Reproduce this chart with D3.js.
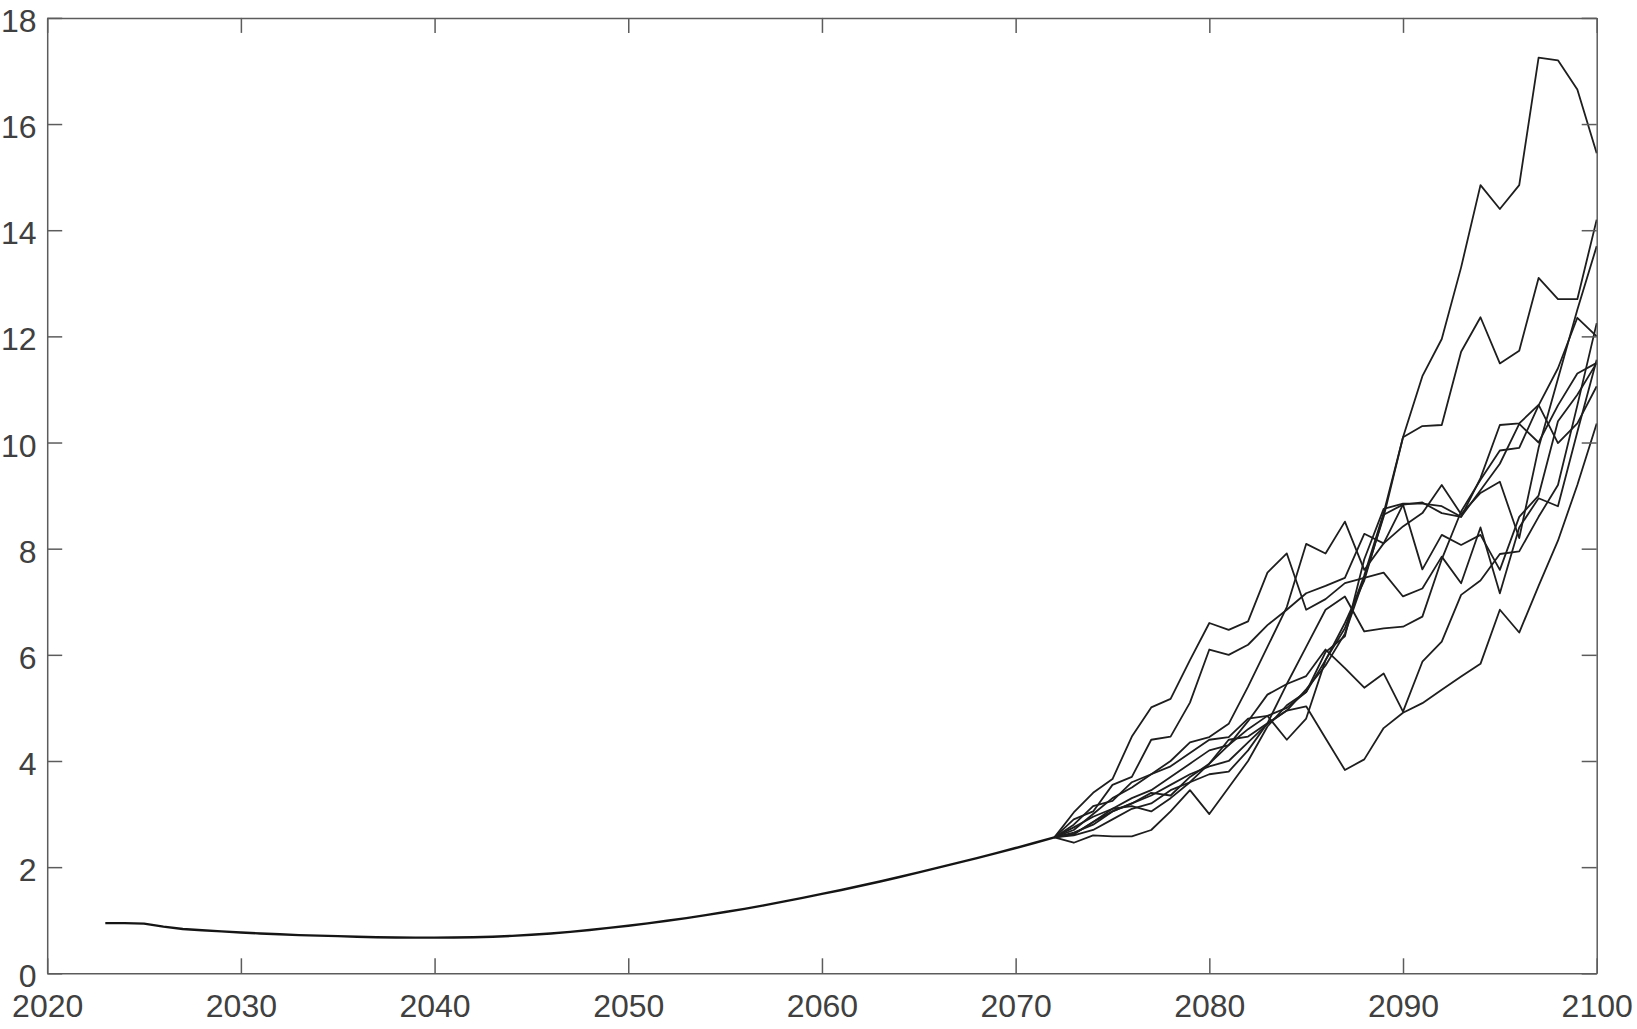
<!DOCTYPE html>
<html>
<head>
<meta charset="utf-8">
<script src="https://cdn.jsdelivr.net/npm/d3@7"></script>
<style>
  body { margin: 0; background: #fff; }
  text { font-family: "Liberation Sans", Arial, Helvetica, sans-serif; }
</style>
</head>
<body>
<div id="graph"></div>
<script>
// shared history 2023-2072
var histYears = d3.range(2023, 2073);
var histValues = [0.945, 0.945, 0.935, 0.88, 0.835, 0.81, 0.79, 0.77, 0.75, 0.735,
    0.72, 0.71, 0.70, 0.69, 0.68, 0.675, 0.672, 0.672, 0.675, 0.68,
    0.69, 0.705, 0.725, 0.75, 0.78, 0.815, 0.855, 0.895, 0.94, 0.99,
    1.04, 1.095, 1.155, 1.215, 1.28, 1.35, 1.42, 1.495, 1.57, 1.65,
    1.73, 1.815, 1.90, 1.99, 2.08, 2.17, 2.265, 2.36, 2.46, 2.56];

// simulated paths 2072-2100
var fanYears = d3.range(2072, 2101);
var run1 = [2.56, 2.75, 2.95, 3.1, 3.3, 3.45, 3.7, 3.95, 4.2, 4.3, 4.6, 4.85, 5.0, 5.3, 5.9, 6.5, 7.5, 8.67, 10.1, 11.25, 11.95, 13.3, 14.85, 14.4, 14.85, 17.25, 17.2, 16.65, 15.45];
var run2 = [2.56, 2.62, 2.85, 3.05, 3.2, 3.35, 3.55, 3.75, 3.9, 4.0, 4.35, 4.7, 4.95, 5.35, 5.8, 6.4, 7.45, 8.6, 10.1, 10.31, 10.33, 11.71, 12.36, 11.49, 11.73, 13.1, 12.7, 12.7, 14.2];
var run3 = [2.56, 3.03, 3.4, 3.66, 4.46, 5.01, 5.17, 5.9, 6.6, 6.47, 6.63, 7.55, 7.91, 6.85, 7.05, 7.35, 7.45, 7.55, 7.1, 7.25, 7.85, 7.35, 8.4, 7.16, 8.4, 8.95, 8.8, 10.2, 11.56];
var run4 = [2.56, 2.9, 3.05, 3.55, 3.7, 4.4, 4.46, 5.1, 6.1, 6.0, 6.19, 6.56, 6.85, 7.16, 7.3, 7.45, 8.28, 8.1, 8.83, 8.87, 8.67, 8.6, 9.33, 10.33, 10.36, 10.71, 9.99, 10.36, 11.06];
var run5 = [2.56, 2.7, 3.0, 3.3, 3.5, 3.75, 4.0, 4.35, 4.45, 4.7, 5.4, 6.15, 6.9, 8.09, 7.91, 8.51, 7.6, 8.1, 8.42, 8.67, 9.2, 8.65, 9.05, 9.26, 8.2, 9.9, 11.2, 12.5, 13.7];
var run6 = [2.56, 2.65, 2.8, 3.05, 3.2, 3.4, 3.35, 3.7, 3.95, 4.3, 4.75, 5.25, 5.45, 5.6, 6.1, 5.75, 5.38, 5.65, 4.93, 5.87, 6.25, 7.13, 7.4, 7.9, 7.95, 8.6, 9.2, 10.7, 12.25];
var run7 = [2.56, 2.46, 2.6, 2.58, 2.58, 2.7, 3.05, 3.45, 3.0, 3.5, 4.0, 4.65, 5.05, 5.3, 6.05, 6.35, 7.8, 8.75, 8.85, 8.85, 8.8, 8.6, 9.1, 9.6, 10.35, 10.0, 10.7, 11.3, 11.5];
var run8 = [2.56, 2.6, 2.7, 2.9, 3.1, 3.2, 3.45, 3.6, 3.95, 4.4, 4.46, 4.71, 5.45, 6.15, 6.85, 7.1, 6.44, 6.5, 6.53, 6.72, 7.8, 8.7, 9.3, 9.85, 9.9, 10.7, 11.4, 12.35, 12.0];
var run9 = [2.56, 2.62, 2.85, 3.1, 3.15, 3.05, 3.3, 3.6, 3.75, 3.8, 4.2, 4.71, 4.95, 5.03, 4.43, 3.83, 4.03, 4.62, 4.91, 5.09, 5.34, 5.59, 5.83, 6.85, 6.42, 7.3, 8.15, 9.2, 10.36];
var run10 = [2.56, 2.8, 3.15, 3.25, 3.6, 3.75, 3.9, 4.15, 4.4, 4.45, 4.8, 4.85, 4.4, 4.8, 5.9, 6.6, 7.4, 8.64, 8.83, 7.61, 8.26, 8.07, 8.26, 7.6, 8.6, 9.0, 10.4, 10.9, 11.5];
var runs = [run1, run2, run3, run4, run5, run6, run7, run8, run9, run10];

var xTicks = d3.range(2020, 2101, 10);
var yTicks = d3.range(0, 19, 2);

var W = 1637, H = 1029;
var margin = {top: 17.9, right: 40.3, bottom: 55.7, left: 47.2};
var width = W - margin.left - margin.right,
    height = H - margin.top - margin.bottom;

var svg = d3.select("#graph").append("svg")
    .attr("width", W)
    .attr("height", H);
var g = svg.append("g")
    .attr("transform", "translate(" + margin.left + "," + margin.top + ")");

var x = d3.scaleLinear().domain([2020, 2100]).range([0, width]);
var y = d3.scaleLinear().domain([0, 18]).range([height, 0]);

var line = d3.line()
    .x(function(d) { return x(d[0]); })
    .y(function(d) { return y(d[1]); });

// fan of paths
runs.forEach(function(r) {
    g.append("path")
        .datum(fanYears.map(function(yr, i) { return [yr, r[i]]; }))
        .attr("d", line)
        .style("fill", "none")
        .style("stroke", "#1e1e1e")
        .style("stroke-width", 1.8)
        .style("stroke-linejoin", "round");
});

// history, all runs share it
g.append("path")
    .datum(histYears.map(function(yr, i) { return [yr, histValues[i]]; }))
    .attr("d", line)
    .style("fill", "none")
    .style("stroke", "#151515")
    .style("stroke-width", 2.4)
    .style("stroke-linejoin", "round");

// axes, box with inward ticks
var axisColor = "#5c5c5c", textColor = "#404040";
var tick = 15;

var xb = g.append("g").attr("transform", "translate(0," + height + ")")
    .call(d3.axisBottom(x).tickValues(xTicks).tickFormat(d3.format("d"))
        .tickSizeInner(-tick).tickSizeOuter(0).tickPadding(20.7));
var xt = g.append("g")
    .call(d3.axisTop(x).tickValues(xTicks).tickFormat("")
        .tickSizeInner(-tick).tickSizeOuter(0));
var yl = g.append("g")
    .call(d3.axisLeft(y).tickValues(yTicks).tickFormat(d3.format("d"))
        .tickSizeInner(-tick).tickSizeOuter(0).tickPadding(10.7));
var yr = g.append("g").attr("transform", "translate(" + width + ",0)")
    .call(d3.axisRight(y).tickValues(yTicks).tickFormat("")
        .tickSizeInner(-tick).tickSizeOuter(0));

[xb, xt, yl, yr].forEach(function(a) {
    a.attr("color", axisColor);
    a.selectAll("path, line").style("stroke-width", 1.5);
    a.selectAll("text")
        .style("font-size", "32px")
        .style("fill", textColor);
});
yl.selectAll("text").attr("dy", "13.6px");
</script>
</body>
</html>
